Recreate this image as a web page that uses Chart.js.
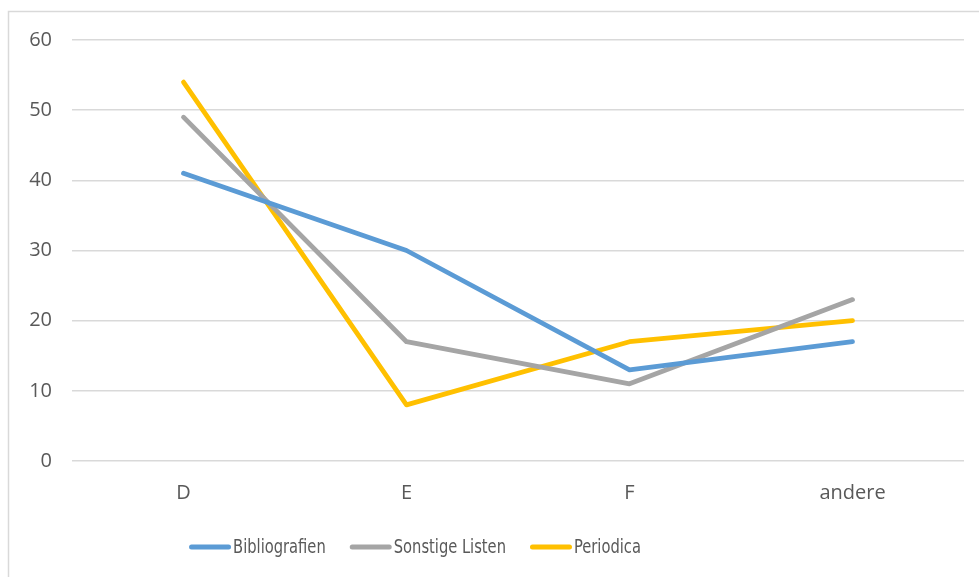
<!DOCTYPE html>
<html>
<head>
<meta charset="utf-8">
<script src="https://cdn.jsdelivr.net/npm/chart.js@4/dist/chart.umd.min.js"></script>
<style>
  html, body { margin: 0; padding: 0; background: #ffffff; }
  #wrap { position: relative; width: 979px; height: 577px; }
  canvas { display: block; }
</style>
</head>
<body>
<div id="wrap"><canvas id="c" width="979" height="577"></canvas></div>
<script>
// Kategorien (Sprachen) und Werte je Reihe
const categories = ['D', 'E', 'F', 'andere'];
const bibliografien = [41, 30, 13, 17];
const sonstigeListen = [49, 17, 11, 23];
const periodica = [54, 8, 17, 20];
const yTicks = [0, 10, 20, 30, 40, 50, 60];

const AXIS_FONT = '"Open Sans", "Liberation Sans", sans-serif';
const LEGEND_FONT = '"DejaVu Sans Condensed", "Liberation Sans", sans-serif';
const TEXT = '#595959';

// Rahmen des Diagrammbereichs (läuft rechts und unten über den Rand hinaus)
const framePlugin = {
  id: 'frame',
  beforeDraw(chart) {
    const ctx = chart.ctx;
    ctx.save();
    ctx.fillStyle = '#ffffff';
    ctx.fillRect(0, 0, chart.width, chart.height);
    ctx.strokeStyle = '#d9d9d9';
    ctx.lineWidth = 1.5;
    ctx.strokeRect(8.5, 11.5, chart.width + 20, chart.height + 20);
    ctx.restore();
  }
};

// Legende: kurze Linie direkt vor dem Reihennamen, schmal gesetzte Schrift
const lineLegend = {
  id: 'lineLegend',
  afterDraw(chart, args, opts) {
    const ctx = chart.ctx;
    ctx.save();
    ctx.font = opts.fontSize + 'px ' + LEGEND_FONT;
    ctx.textBaseline = 'middle';
    const items = chart.data.datasets.map(d => ({
      text: d.label, color: d.borderColor, w: ctx.measureText(d.label).width * opts.condense
    }));
    const total = items.reduce((s, it) => s + opts.swatch + opts.gap + it.w, 0)
      + opts.spacing * (items.length - 1);
    let x = opts.centerX - total / 2;
    const y = opts.y;
    items.forEach(it => {
      ctx.strokeStyle = it.color;
      ctx.lineWidth = 5;
      ctx.lineCap = 'round';
      ctx.beginPath();
      ctx.moveTo(x + 2.5, y);
      ctx.lineTo(x + opts.swatch - 2.5, y);
      ctx.stroke();
      x += opts.swatch + opts.gap;
      ctx.save();
      ctx.translate(x, y + 1);
      ctx.scale(opts.condense, 1);
      ctx.fillStyle = TEXT;
      ctx.fillText(it.text, 0, 0);
      ctx.restore();
      x += it.w + opts.spacing;
    });
    ctx.restore();
  }
};

function series(label, data, color) {
  return {
    label, data,
    borderColor: color,
    backgroundColor: color,
    borderWidth: 4.8,
    pointRadius: 0,
    pointHoverRadius: 0,
    tension: 0,
    borderJoinStyle: 'round',
    borderCapStyle: 'round',
    fill: false
  };
}

new Chart(document.getElementById('c'), {
  type: 'line',
  data: {
    labels: categories,
    datasets: [
      series('Bibliografien', bibliografien, '#5B9BD5'),
      series('Sonstige Listen', sonstigeListen, '#A5A5A5'),
      series('Periodica', periodica, '#FFC000')
    ]
  },
  options: {
    responsive: false,
    animation: false,
    devicePixelRatio: 1,
    layout: { padding: { left: 0, right: 15, top: 40, bottom: 0 } },
    plugins: {
      tooltip: { enabled: false },
      legend: { display: false },
      lineLegend: { fontSize: 19, condense: 0.86, swatch: 42, gap: 2, spacing: 24, centerX: 415, y: 547 }
    },
    scales: {
      x: {
        offset: true,
        grid: { display: false, drawTicks: false },
        border: { display: false },
        ticks: { font: { family: AXIS_FONT, size: 20 }, color: TEXT, padding: 20 },
        afterFit(s) { s.height = 116; }
      },
      y: {
        min: 0,
        max: 60,
        afterBuildTicks(s) { s.ticks = yTicks.map(v => ({ value: v })); },
        grid: { color: '#d9d9d9', lineWidth: 1.5, drawTicks: false },
        border: { display: false },
        ticks: { font: { family: AXIS_FONT, size: 20 }, color: TEXT, padding: 20 },
        afterFit(s) { s.width = 72; }
      }
    }
  },
  plugins: [framePlugin, lineLegend]
});
</script>
</body>
</html>
